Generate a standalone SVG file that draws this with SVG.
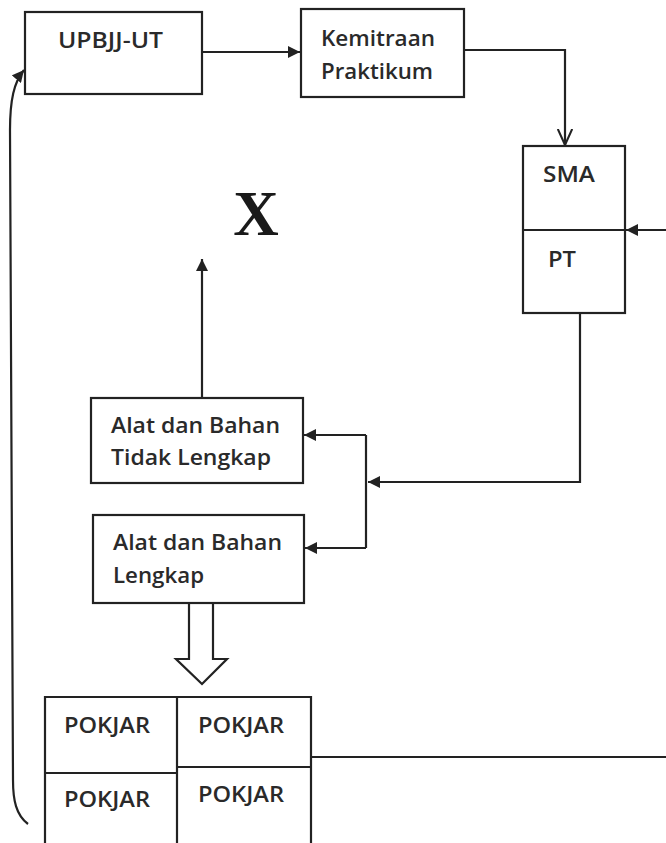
<svg xmlns="http://www.w3.org/2000/svg" width="666" height="843" viewBox="0 0 666 843">
<style>
.box{fill:#fff;stroke:#222;stroke-width:2.2}
.t{font-family:"Open Sans","Liberation Sans",sans-serif;font-size:22px;font-weight:600;fill:#2a2a2a}
.ln{fill:none;stroke:#222;stroke-width:2.2}
</style>
<defs>
<marker id="fa" viewBox="0 0 10 10" refX="10" refY="5" markerWidth="12" markerHeight="12" markerUnits="userSpaceOnUse" orient="auto">
<path d="M0,0 L10,5 L0,10 Z" fill="#222"/>
</marker>
<marker id="oa" viewBox="0 0 10 10" refX="10" refY="5" markerWidth="16" markerHeight="16" markerUnits="userSpaceOnUse" orient="auto">
<path d="M0,0.5 L10,5 L0,9.5" fill="none" stroke="#222" stroke-width="1.3"/>
</marker>
</defs>
<rect width="666" height="843" fill="#fff"/>
<g id="connectors">
<line class="ln" x1="202" y1="52" x2="300" y2="52" marker-end="url(#fa)"/>
<polyline class="ln" points="464,50 565,50 565,145" marker-end="url(#oa)"/>
<line class="ln" x1="666" y1="230" x2="626" y2="230" marker-end="url(#fa)"/>
<line class="ln" x1="202" y1="398" x2="202" y2="259" marker-end="url(#fa)"/>
<polyline class="ln" points="580,313 580,482 368,482" marker-end="url(#fa)"/>
<polyline class="ln" points="366,435 366,548"/>
<line class="ln" x1="366" y1="435" x2="304" y2="435" marker-end="url(#fa)"/>
<line class="ln" x1="366" y1="548" x2="305" y2="548" marker-end="url(#fa)"/>
<path class="ln" d="M189,603 L189,659 L176,659 L202,684 L227,659 L213,659 L213,603" stroke-linejoin="miter"/>
<line class="ln" x1="311" y1="757" x2="666" y2="757"/>
<path class="ln" d="M28,824 C16,815 13,800 13,780 L10,130 C10,100 14,82 24,70" marker-end="url(#fa)"/>
</g>
<g id="upbjj">
<rect class="box" x="25" y="12" width="177" height="82"/>
<text class="t" x="58" y="48" textLength="105" lengthAdjust="spacingAndGlyphs">UPBJJ-UT</text>
</g>
<g id="kemitraan">
<rect class="box" x="301" y="9" width="163" height="88"/>
<text class="t" x="321" y="46" textLength="114" lengthAdjust="spacingAndGlyphs">Kemitraan</text>
<text class="t" x="321" y="79" textLength="112" lengthAdjust="spacingAndGlyphs">Praktikum</text>
</g>
<g id="sma-pt">
<rect class="box" x="523" y="146" width="102" height="167"/>
<line class="ln" x1="523" y1="230" x2="625" y2="230"/>
<text class="t" x="543" y="182" textLength="52" lengthAdjust="spacingAndGlyphs">SMA</text>
<text class="t" x="548" y="267" textLength="28" lengthAdjust="spacingAndGlyphs">PT</text>
</g>
<g id="x-label">
<text x="256" y="235" text-anchor="middle" font-family="'Liberation Serif','Times New Roman',serif" font-weight="bold" font-size="63" fill="#1a1a1a">X</text>
</g>
<g id="tidak-lengkap">
<rect class="box" x="91" y="398" width="212" height="85"/>
<text class="t" x="111" y="433" textLength="169" lengthAdjust="spacingAndGlyphs">Alat dan Bahan</text>
<text class="t" x="111" y="465" textLength="160" lengthAdjust="spacingAndGlyphs">Tidak Lengkap</text>
</g>
<g id="lengkap">
<rect class="box" x="93" y="515" width="211" height="88"/>
<text class="t" x="113" y="550" textLength="169" lengthAdjust="spacingAndGlyphs">Alat dan Bahan</text>
<text class="t" x="113" y="583" textLength="91" lengthAdjust="spacingAndGlyphs">Lengkap</text>
</g>
<g id="pokjar">
<path class="ln" d="M45,850 L45,697 L311,697 L311,850"/>
<line class="ln" x1="177" y1="697" x2="177" y2="850"/>
<line class="ln" x1="45" y1="773" x2="177" y2="773"/>
<line class="ln" x1="177" y1="767" x2="311" y2="767"/>
<text class="t" x="64" y="733" textLength="86" lengthAdjust="spacingAndGlyphs">POKJAR</text>
<text class="t" x="198" y="733" textLength="86" lengthAdjust="spacingAndGlyphs">POKJAR</text>
<text class="t" x="64" y="807" textLength="86" lengthAdjust="spacingAndGlyphs">POKJAR</text>
<text class="t" x="198" y="802" textLength="86" lengthAdjust="spacingAndGlyphs">POKJAR</text>
</g>
</svg>
